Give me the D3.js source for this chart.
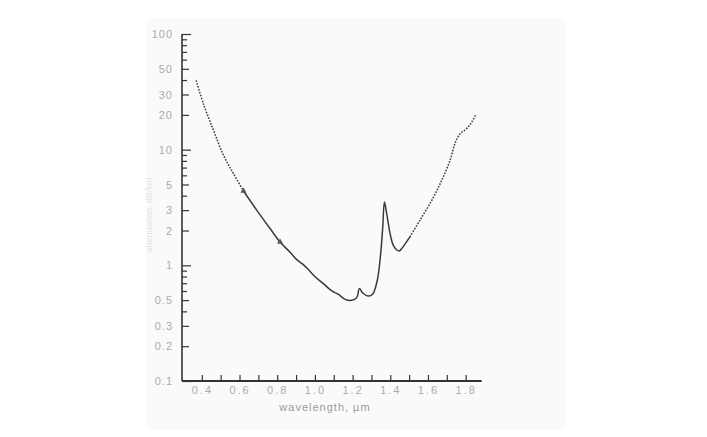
<!DOCTYPE html>
<html>
<head>
<meta charset="utf-8">
<script src="https://cdn.jsdelivr.net/npm/d3@7"></script>
<style>
  html, body { margin: 0; padding: 0; background: #ffffff; }
  svg { display: block; }
  text { font-family: "Liberation Sans", "DejaVu Sans", sans-serif; }
</style>
</head>
<body>
<svg id="chart" width="707" height="437"></svg>
<script>
// ---- data ----
const wavelength = [0.37, 0.408, 0.462, 0.515, 0.568, 0.621, 0.692, 0.762, 0.815, 0.868, 0.904, 0.94, 0.965, 1.00, 1.045, 1.09, 1.125, 1.16, 1.195, 1.222, 1.236, 1.254, 1.283, 1.306, 1.331, 1.349, 1.36, 1.369, 1.381, 1.399, 1.416, 1.437, 1.448, 1.46, 1.504, 1.557, 1.625, 1.673, 1.717, 1.743, 1.77, 1.805, 1.832, 1.855];
const attenuation = [39.7, 25.0, 14.7, 8.93, 6.2, 4.39, 2.99, 2.08, 1.59, 1.30, 1.12, 1.01, 0.92, 0.80, 0.694, 0.60, 0.56, 0.508, 0.498, 0.526, 0.629, 0.577, 0.543, 0.562, 0.742, 1.26, 2.14, 3.52, 2.8, 1.88, 1.49, 1.35, 1.33, 1.39, 1.76, 2.45, 3.77, 5.43, 8.07, 11.3, 13.7, 15.2, 17.3, 20.2];
const markerWavelength = [0.621, 0.815];
const markerAttenuation = [4.39, 1.59];

const xTicks = [0.4, 0.5, 0.6, 0.7, 0.8, 0.9, 1.0, 1.1, 1.2, 1.3, 1.4, 1.5, 1.6, 1.7, 1.8];
const xLabelValues = [0.4, 0.6, 0.8, 1.0, 1.2, 1.4, 1.6, 1.8];
const xLabelText = ["0.4", "0.6", "0.8", "1.0", "1.2", "1.4", "1.6", "1.8"];
const yLabelValues = [0.1, 0.2, 0.3, 0.5, 1, 2, 3, 5, 10, 20, 30, 50, 100];
const yLabelText = ["0.1", "0.2", "0.3", "0.5", "1", "2", "3", "5", "10", "20", "30", "50", "100"];
const xTitle = "wavelength, µm";
const yTitle = "attenuation, dB/km";

// ---- drawing ----
const svg = d3.select("#chart");

// scanned page background
svg.append("rect").attr("x", 147).attr("y", 18).attr("width", 418).attr("height", 412)
  .attr("fill", "#fafafa");

const x = d3.scaleLinear().domain([0.3, 1.9]).range([183, 484.5]);
const y = d3.scaleLog().domain([0.1, 100]).range([381, 34]);

// minor ticks: every integer multiple within each decade
const yTicks = [];
[0.1, 1, 10].forEach(d => { for (let k = 1; k <= 9; k++) yTicks.push(+(d * k).toFixed(3)); });
yTicks.push(100);

const yAxis = d3.axisLeft(y).tickValues(yTicks).tickSizeInner(-6).tickSizeOuter(0).tickPadding(9)
  .tickFormat(d => { const i = yLabelValues.findIndex(v => Math.abs(v - d) < 1e-6); return i >= 0 ? yLabelText[i] : ""; });
const gy = svg.append("g").attr("transform", `translate(${x(0.3) - 1},0)`).call(yAxis);
gy.select(".domain").remove();
gy.selectAll(".tick line").attr("stroke", "#333").attr("stroke-width", 1.2)
  .attr("x2", d => (Math.abs(Math.log10(d) - Math.round(Math.log10(d))) < 1e-6) ? 9 : (yLabelValues.some(v => Math.abs(v - d) < 1e-6) ? 7 : 5));
gy.selectAll(".tick text").attr("fill", "#ababab").attr("font-size", 11).style("letter-spacing", "1px");

const xAxis = d3.axisBottom(x).tickValues(xTicks).tickSizeInner(-6).tickSizeOuter(0).tickPadding(5)
  .tickFormat(d => { const i = xLabelValues.findIndex(v => Math.abs(v - d) < 1e-6); return i >= 0 ? xLabelText[i] : ""; });
const gx = svg.append("g").attr("transform", `translate(0,${y(0.1)})`).call(xAxis);
gx.select(".domain").remove();
gx.selectAll(".tick line").attr("stroke", "#333").attr("stroke-width", 1.2);
gx.selectAll(".tick text").attr("fill", "#ababab").attr("font-size", 11).style("letter-spacing", "2px");

// axis lines
svg.append("line").attr("x1", x(0.3) - 1).attr("x2", x(0.3) - 1).attr("y1", y(100)).attr("y2", y(0.1))
  .attr("stroke", "#333").attr("stroke-width", 1.6);
svg.append("line").attr("x1", x(0.3) - 1).attr("x2", x(1.885)).attr("y1", y(0.1)).attr("y2", y(0.1))
  .attr("stroke", "#333").attr("stroke-width", 1.8);

// titles
svg.append("text").attr("x", 325).attr("y", 411).attr("text-anchor", "middle")
  .attr("fill", "#9a9a9a").attr("font-size", 11).style("letter-spacing", "1px").text(xTitle);
svg.append("text").attr("transform", "translate(152,215) rotate(-90)").attr("text-anchor", "middle")
  .attr("fill", "#e4e4e4").attr("font-size", 9).text(yTitle);

// curve
const pts = wavelength.map((w, i) => ({ w, a: attenuation[i] }));
const line = d3.line().x(d => x(d.w)).y(d => y(d.a)).curve(d3.curveCatmullRom.alpha(0.5));
const segs = [
  { data: pts.filter(d => d.w <= 0.63), dash: "1.6,1.4" },
  { data: pts.filter(d => d.w >= 0.62 && d.w <= 1.51), dash: null },
  { data: pts.filter(d => d.w >= 1.50), dash: "1.6,1.4" }
];
segs.forEach(s => {
  svg.append("path").datum(s.data).attr("d", line).attr("fill", "none")
    .attr("stroke", "#3a3a3a").attr("stroke-width", 1.5)
    .attr("stroke-dasharray", s.dash);
});

// small markers on curve
svg.selectAll(".mk").data(markerWavelength).enter().append("path")
  .attr("class", "mk")
  .attr("transform", (d, i) => `translate(${x(d)},${y(markerAttenuation[i])})`)
  .attr("d", d3.symbol().type(d3.symbolTriangle).size(16))
  .attr("fill", "#555");
</script>
</body>
</html>
